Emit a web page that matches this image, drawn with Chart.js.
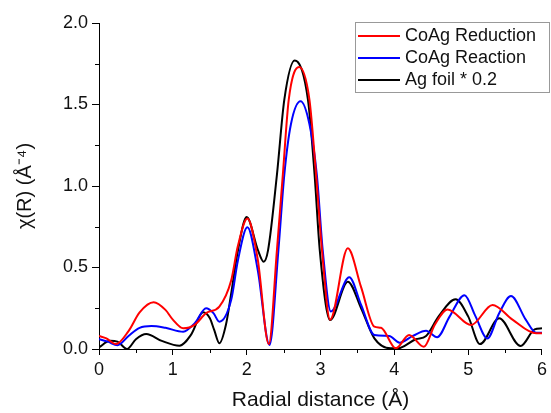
<!DOCTYPE html>
<html>
<head>
<meta charset="utf-8">
<script src="https://cdn.jsdelivr.net/npm/chart.js@4.4.0/dist/chart.umd.min.js"></script>
<style>
  html, body { margin: 0; padding: 0; background: #fff; }
  #wrap { width: 551px; height: 413px; }
</style>
</head>
<body>
<div id="wrap"><canvas id="chart" width="551" height="413"></canvas></div>
<script>
// Fourier-transformed EXAFS, chi(R) vs radial distance
var seriesNames = ['CoAg Reduction', 'CoAg Reaction', 'Ag foil * 0.2'];
var seriesColors = ['#ff0000', '#0000ff', '#000000'];

var rReduction = [0.00, 0.10, 0.23, 0.40, 0.55, 0.74, 0.90, 1.00, 1.14, 1.30, 1.45, 1.63, 1.79, 1.88, 2.01, 2.15, 2.30,
  2.41, 2.49, 2.57, 2.71, 2.85, 2.94, 3.02, 3.13, 3.37, 3.55, 3.73, 3.82, 4.02, 4.20, 4.40, 4.55, 4.72, 5.04, 5.33, 5.60, 5.92, 6.00];
var chiReduction = [0.080, 0.065, 0.030, 0.110, 0.225, 0.287, 0.240, 0.180, 0.127, 0.150, 0.220, 0.260, 0.420, 0.630, 0.800, 0.550, 0.030,
  0.607, 1.070, 1.530, 1.730, 1.530, 1.070, 0.607, 0.180, 0.618, 0.380, 0.137, 0.130, 0.004, 0.086, 0.014, 0.150, 0.243, 0.147, 0.270, 0.180, 0.096, 0.096];

var rReaction = [0.00, 0.12, 0.25, 0.40, 0.55, 0.71, 0.90, 1.14, 1.30, 1.45, 1.55, 1.63, 1.79, 1.88, 2.01, 2.15, 2.31,
  2.43, 2.51, 2.60, 2.73, 2.85, 2.95, 3.03, 3.14, 3.39, 3.55, 3.73, 3.93, 4.07, 4.25, 4.43, 4.58, 4.75, 4.95, 5.10, 5.26, 5.42, 5.58, 5.78, 5.92, 6.00];
var chiReaction = [0.060, 0.045, 0.023, 0.080, 0.130, 0.141, 0.130, 0.106, 0.160, 0.250, 0.220, 0.167, 0.300, 0.540, 0.747, 0.485, 0.025,
  0.607, 1.070, 1.380, 1.520, 1.380, 1.070, 0.607, 0.230, 0.440, 0.270, 0.086, 0.080, 0.039, 0.080, 0.112, 0.072, 0.200, 0.330, 0.200, 0.065, 0.220, 0.325, 0.180, 0.100, 0.100];

var rFoil = [0.00, 0.15, 0.25, 0.38, 0.50, 0.64, 0.85, 1.09, 1.25, 1.41, 1.50, 1.56, 1.63, 1.72, 1.79, 1.88, 2.00, 2.15, 2.23,
  2.29, 2.41, 2.51, 2.65, 2.83, 2.92, 2.99, 3.13, 3.37, 3.55, 3.73, 3.95, 4.05, 4.29, 4.43, 4.60, 4.83, 5.00, 5.16, 5.42, 5.71, 5.90, 6.00];
var chiFoil = [0.010, 0.050, 0.045, 0.000, 0.060, 0.092, 0.050, 0.020, 0.090, 0.225, 0.190, 0.117, 0.035, 0.150, 0.340, 0.600, 0.810, 0.610, 0.536,
  0.607, 1.070, 1.530, 1.770, 1.530, 1.070, 0.607, 0.178, 0.413, 0.250, 0.065, 0.004, 0.004, 0.060, 0.080, 0.200, 0.305, 0.200, 0.030, 0.188, 0.018, 0.120, 0.127];

var xTicks = [0, 1, 2, 3, 4, 5, 6];
var yTicks = [0.0, 0.5, 1.0, 1.5, 2.0];

function toPoints(rs, chis) {
  return rs.map(function (r, i) { return { x: r, y: chis[i] }; });
}

var allR = [rReduction, rReaction, rFoil];
var allChi = [chiReduction, chiReaction, chiFoil];

Chart.defaults.font.family = 'Arial, "Liberation Sans", sans-serif';
Chart.defaults.color = '#111';

// small ticks between the labelled ones
var minorTicks = {
  id: 'minorTicks',
  afterDraw: function (chart) {
    var ctx = chart.ctx, xs = chart.scales.x, ys = chart.scales.y;
    ctx.save();
    ctx.strokeStyle = '#000';
    ctx.lineWidth = 1;
    ctx.beginPath();
    for (var i = 0; i < xTicks.length - 1; i++) {
      var px = Math.round(xs.getPixelForValue((xTicks[i] + xTicks[i + 1]) / 2)) + 0.5;
      ctx.moveTo(px, ys.bottom);
      ctx.lineTo(px, ys.bottom + 4);
    }
    for (var j = 0; j < yTicks.length - 1; j++) {
      var py = Math.round(ys.getPixelForValue((yTicks[j] + yTicks[j + 1]) / 2)) + 0.5;
      ctx.moveTo(xs.left, py);
      ctx.lineTo(xs.left - 4, py);
    }
    ctx.stroke();
    ctx.restore();
  }
};

// boxed legend in the upper right corner
var boxLegend = {
  id: 'boxLegend',
  afterDraw: function (chart) {
    var ctx = chart.ctx;
    var x0 = 355, y0 = 22, w = 194, h = 70, rowH = 22;
    ctx.save();
    ctx.fillStyle = '#fff';
    ctx.fillRect(x0, y0, w, h);
    ctx.strokeStyle = '#999';
    ctx.lineWidth = 1;
    ctx.strokeRect(x0 + 0.5, y0 + 0.5, w, h);
    ctx.font = '18px Arial, "Liberation Sans", sans-serif';
    ctx.textBaseline = 'middle';
    chart.data.datasets.forEach(function (ds, i) {
      var cy = y0 + 14 + i * rowH;
      ctx.strokeStyle = ds.borderColor;
      ctx.lineWidth = 2;
      ctx.beginPath();
      ctx.moveTo(x0 + 3, cy);
      ctx.lineTo(x0 + 45, cy);
      ctx.stroke();
      ctx.fillStyle = '#111';
      ctx.fillText(ds.label, x0 + 50, cy);
    });
    ctx.restore();
  }
};

new Chart(document.getElementById('chart'), {
  type: 'line',
  data: {
    datasets: seriesNames.map(function (name, i) {
      return {
        label: name,
        data: toPoints(allR[i], allChi[i]),
        borderColor: seriesColors[i],
        borderWidth: 2,
        pointRadius: 0,
        fill: false,
        cubicInterpolationMode: 'monotone'
      };
    })
  },
  options: {
    responsive: false,
    animation: false,
    layout: { padding: { top: 23, right: 8, left: 0, bottom: 0 } },
    plugins: { legend: { display: false }, tooltip: { enabled: false } },
    scales: {
      x: {
        type: 'linear',
        min: 0, max: 6,
        afterBuildTicks: function (s) { s.ticks = xTicks.map(function (v) { return { value: v }; }); },
        afterFit: function (s) { s.height = 64; },
        ticks: { font: { size: 18 }, padding: 4, maxRotation: 0, callback: function (v) { return String(v); } },
        grid: { drawOnChartArea: false, drawTicks: true, tickLength: 6, tickColor: '#000' },
        border: { display: true, color: '#000', width: 1 },
        title: { display: true, text: 'Radial distance (Å)', font: { size: 21 }, padding: { top: 0, bottom: 0 } }
      },
      y: {
        min: 0, max: 2,
        afterBuildTicks: function (s) { s.ticks = yTicks.map(function (v) { return { value: v }; }); },
        afterFit: function (s) { s.width = 99; },
        ticks: { font: { size: 18 }, padding: 4, callback: function (v) { return v.toFixed(1); } },
        grid: { drawOnChartArea: false, drawTicks: true, tickLength: 7, tickColor: '#000' },
        border: { display: true, color: '#000', width: 1 },
        title: { display: true, text: 'χ(R) (Å⁻⁴)', font: { size: 20 }, padding: { top: 13, bottom: 0 } }
      }
    }
  },
  plugins: [minorTicks, boxLegend]
});
</script>
</body>
</html>
